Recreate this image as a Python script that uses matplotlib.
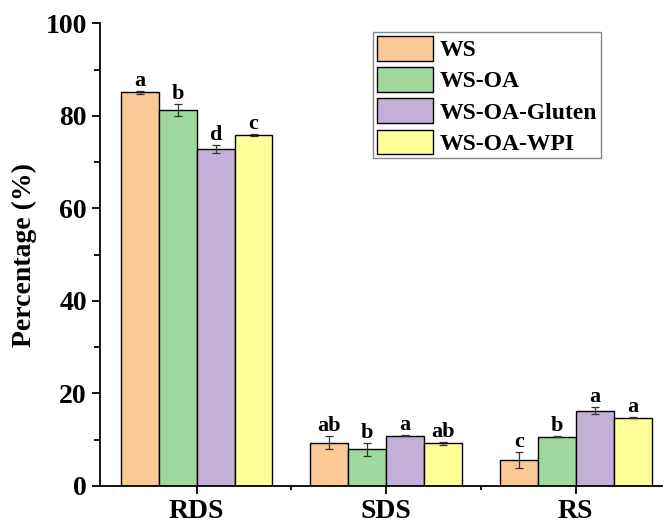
import matplotlib
matplotlib.use("Agg")
import matplotlib.pyplot as plt
import numpy as np

plt.rcParams['font.family'] = ['Liberation Serif', 'DejaVu Serif']
plt.rcParams['font.weight'] = 'bold'

groups = ['RDS', 'SDS', 'RS']
samples = ['WS', 'WS-OA', 'WS-OA-Gluten', 'WS-OA-WPI']
colors = ['#FAC996', '#9ED89C', '#C2B0D6', '#FFFF99']

# mean percentage per sample, ordered RDS, SDS, RS
ws = [85.1, 9.4, 5.6]
ws_oa = [81.3, 7.9, 10.7]
ws_gluten = [72.9, 10.9, 16.3]
ws_wpi = [75.9, 9.2, 14.8]

ws_err = [0.3, 1.4, 1.8]
ws_oa_err = [1.3, 1.4, 0.1]
ws_gluten_err = [0.9, 0.1, 0.8]
ws_wpi_err = [0.2, 0.4, 0.1]

ws_sig = ['a', 'ab', 'c']
ws_oa_sig = ['b', 'b', 'b']
ws_gluten_sig = ['d', 'a', 'a']
ws_wpi_sig = ['c', 'ab', 'a']

means = [ws, ws_oa, ws_gluten, ws_wpi]
errs = [ws_err, ws_oa_err, ws_gluten_err, ws_wpi_err]
sigs = [ws_sig, ws_oa_sig, ws_gluten_sig, ws_wpi_sig]

fig = plt.figure(figsize=(6.65, 5.25), dpi=100)
ax = fig.add_axes([0.1504, 0.0743, 0.845, 0.881])

x = np.arange(len(groups))
w = 0.2
for i in range(4):
    pos = x + (i - 1.5) * w
    ax.bar(pos, means[i], w, color=colors[i], edgecolor='black', linewidth=1.0,
           label=samples[i], zorder=2)
    ax.errorbar(pos, means[i], yerr=errs[i], fmt='none', ecolor='#333333',
                elinewidth=0.9, capsize=2.8, capthick=0.9, zorder=3)
    for p, m, e, s in zip(pos, means[i], errs[i], sigs[i]):
        ax.text(p, m + e + 1.0, s, ha='center', va='baseline', fontsize=16,
                fontweight='bold')

ax.set_xlim(-0.51, 2.455)
ax.set_ylim(0, 100)
ax.set_xticks(x)
ax.set_xticklabels(groups)
ax.set_xticks([0.5, 1.5], minor=True)
ax.set_yticks(np.arange(0, 101, 20))
ax.set_yticks(np.arange(10, 100, 20), minor=True)
ax.set_ylabel('Percentage (%)', fontsize=20, fontweight='bold', labelpad=6)

for side in ['top', 'right']:
    ax.spines[side].set_visible(False)
for side in ['left', 'bottom']:
    ax.spines[side].set_linewidth(1.3)
ax.tick_params(axis='both', which='major', labelsize=20, length=6, width=1.3)
ax.tick_params(axis='both', which='minor', length=4, width=1.3)
ax.tick_params(axis='x', which='minor', length=3)
for lab in ax.get_xticklabels() + ax.get_yticklabels():
    lab.set_fontweight('bold')

leg = ax.legend(loc='upper left', bbox_to_anchor=(373 / 665, 1 - 32 / 525),
                bbox_transform=fig.transFigure, prop={'size': 17, 'weight': 'bold'},
                handlelength=2.37, handleheight=1.25, labelspacing=0.25,
                handletextpad=0.3, borderpad=0.15, borderaxespad=0,
                fancybox=False, framealpha=1)
leg.get_frame().set_edgecolor('#888888')
leg.get_frame().set_linewidth(1.0)

fig.savefig('out.png', dpi=100)
